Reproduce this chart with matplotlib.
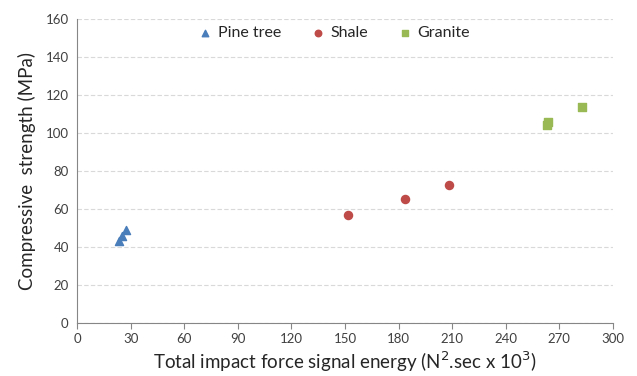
import matplotlib
matplotlib.use("Agg")
import matplotlib.pyplot as plt

plt.rcParams['font.family'] = ['Lato', 'DejaVu Sans']

pine_x = [23.5, 25.2, 27.4]
pine_y = [43.2, 45.8, 49.2]
shale_x = [151.6, 183.5, 208.2]
shale_y = [56.7, 65.2, 72.6]
granite_x = [263.0, 263.6, 282.6]
granite_y = [104.2, 105.6, 113.7]
xticks = list(range(0, 301, 30))
yticks = list(range(0, 161, 20))

fig = plt.figure(figsize=(6.37, 3.76), dpi=100)
ax = fig.add_axes([0.121, 0.141, 0.841, 0.808])

ax.scatter(pine_x, pine_y, marker='^', s=34, color='#4A7EBB', label='Pine tree', zorder=3)
ax.scatter(shale_x, shale_y, marker='o', s=34, color='#BE4B48', label='Shale', zorder=3)
ax.scatter(granite_x, granite_y, marker='s', s=34, color='#98B954', label='Granite', zorder=3)

ax.set_xlim(0, 300)
ax.set_ylim(0, 160)
ax.set_xticks(xticks)
ax.set_yticks(yticks)
ax.yaxis.grid(True, linestyle=(0, (4, 2)), color='#D9D9D9', linewidth=0.8)
ax.set_axisbelow(True)
for s in ['top', 'right']:
    ax.spines[s].set_visible(False)
for s in ['left', 'bottom']:
    ax.spines[s].set_color('#868686')
    ax.spines[s].set_linewidth(0.8)
ax.tick_params(axis='x', direction='out', length=4, color='#868686', labelsize=9.5, labelcolor='#404040')
ax.tick_params(axis='y', length=0, labelsize=9.5, labelcolor='#404040', pad=6)

ax.set_xlabel('Total impact force signal energy (N$^2$.sec x 10$^3$)', fontsize=13.5, color='#262626', labelpad=3)
ax.set_ylabel('Compressive  strength (MPa)', fontsize=13.5, color='#262626', labelpad=7)

ax.legend(loc='upper left', bbox_to_anchor=(0.2, 1.025), ncol=3, frameon=False,
          fontsize=11.5, handlelength=0.8, handletextpad=0.4, columnspacing=1.9,
          markerscale=0.8, labelcolor='#262626')

fig.savefig('out.png', dpi=100)
